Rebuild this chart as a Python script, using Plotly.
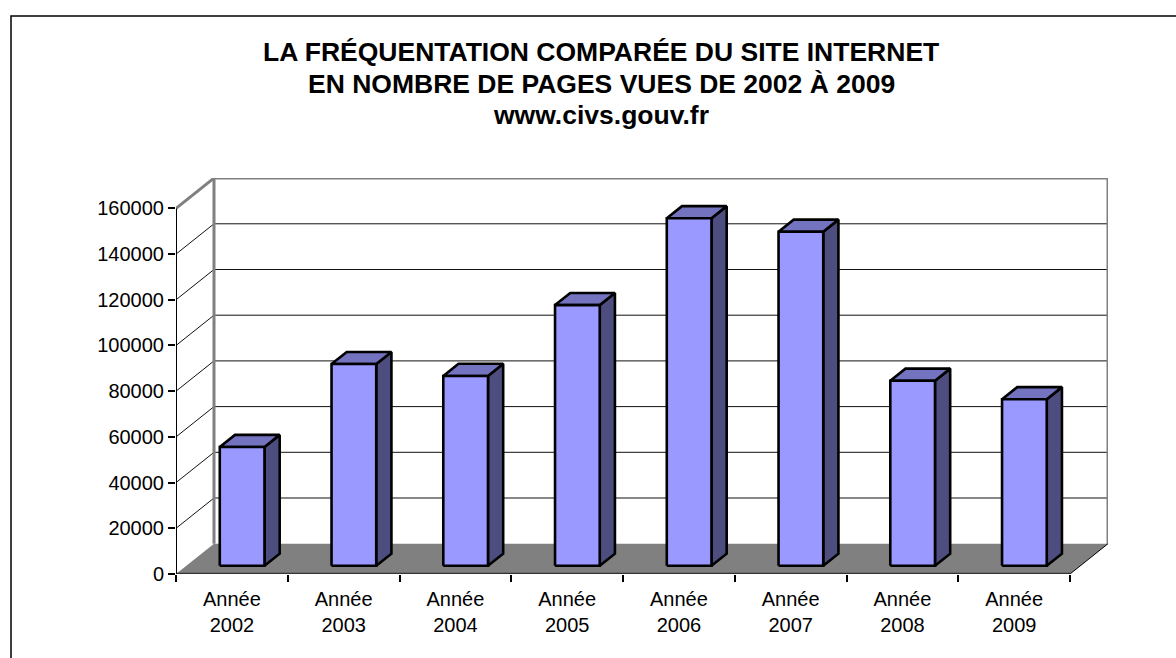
import plotly.graph_objects as go

# Pages viewed per year on www.civs.gouv.fr
categories = ["2002", "2003", "2004", "2005", "2006", "2007", "2008", "2009"]
pages_vues = [52000, 88300, 83100, 114100, 152100, 146200, 81000, 72900]
y_ticks = [0, 20000, 40000, 60000, 80000, 100000, 120000, 140000, 160000]
title_lines = [
    "LA FRÉQUENTATION COMPARÉE DU SITE INTERNET",
    "EN NOMBRE DE PAGES VUES DE 2002 À 2009",
    "www.civs.gouv.fr",
]

FONT = "Arial, Liberation Sans, sans-serif"

# Oblique 3-D geometry, in axis units
n = len(categories)
DX = 0.34          # depth shift along the category axis
DY = 13260         # depth shift along the value axis
Y_TOP = y_ticks[-1]
Y_MAX = 173300
BAR_FRONT, BAR_BACK = 0.27, 0.67   # bar depth span (fraction of wall depth)
BAR_HALF = 0.2                     # half bar width in category units

FRONT_COL = "#9999FF"
SIDE_COL = "#4D4D80"
TOP_COL = "#7373C0"

# plot area in pixels
L, R, T, B = 176, 68, 178, 84
W, H = 1176, 658
PW, PH = W - L - R, H - T - B

fig = go.Figure()


def poly(xs, ys, fill, line_color=None, line_width=0):
    fig.add_trace(go.Scatter(
        x=xs + [xs[0]], y=ys + [ys[0]], mode="lines", fill="toself",
        fillcolor=fill,
        line=dict(color=line_color or fill, width=line_width),
        hoverinfo="skip", showlegend=False))


def seg(xs, ys, color, width):
    fig.add_trace(go.Scatter(
        x=xs, y=ys, mode="lines", line=dict(color=color, width=width),
        hoverinfo="skip", showlegend=False))


# walls
poly([0, DX, DX, 0], [0, DY, DY + Y_TOP, Y_TOP], "white")
poly([DX, n + DX, n + DX, DX], [DY, DY, DY + Y_TOP, DY + Y_TOP], "white")

# gridlines on side and back walls
for v in y_ticks[1:-1]:
    seg([0, DX, n + DX], [v, v + DY, v + DY], "#111111", 1)

# wall edges
seg([DX, DX, n + DX, n + DX], [DY, DY + Y_TOP, DY + Y_TOP, DY], "#808080", 3)
seg([0, DX], [Y_TOP, Y_TOP + DY], "#808080", 3)

# floor
poly([0, n, n + DX, DX], [0, 0, DY, DY], "#808080")
seg([n, n + DX], [0, DY], "#000000", 1)
seg([0, n], [0, 0], "#333333", 2.5)

# bars
fx, fy = BAR_FRONT * DX, BAR_FRONT * DY
bx, by = BAR_BACK * DX, BAR_BACK * DY
for i, v in enumerate(pages_vues):
    x0 = i + 0.5 - BAR_HALF
    x1 = i + 0.5 + BAR_HALF
    poly([x1 + fx, x1 + bx, x1 + bx, x1 + fx], [fy, by, by + v, fy + v],
         SIDE_COL, "black", 2.6)
    poly([x0 + fx, x1 + fx, x1 + bx, x0 + bx], [fy + v, fy + v, by + v, by + v],
         TOP_COL, "black", 2.6)
    poly([x0 + fx, x1 + fx, x1 + fx, x0 + fx], [fy, fy, fy + v, fy + v],
         FRONT_COL, "black", 2.6)

# value axis line
seg([0, 0], [0, Y_TOP], "black", 2)


def py(px):
    return (H - B - px) / PH


def pxx(px):
    return (px - L) / PW


for k, (line, ypix) in enumerate(zip(title_lines, [52, 84, 115])):
    fig.add_annotation(
        text=f"<b>{line}</b>", x=pxx(601), y=py(ypix), xref="paper", yref="paper",
        xanchor="center", yanchor="middle", showarrow=False,
        font=dict(family=FONT, size=26.5, color="black"))

# outer frame
fig.add_shape(type="rect", xref="paper", yref="paper",
              x0=pxx(11), x1=pxx(W + 20), y0=py(H + 20), y1=py(16),
              line=dict(color="black", width=1.5), fillcolor="rgba(0,0,0,0)",
              layer="below")

fig.update_layout(
    width=W, height=H,
    margin=dict(l=L, r=R, t=T, b=B, pad=0),
    paper_bgcolor="white", plot_bgcolor="white",
    showlegend=False,
    font=dict(family=FONT, size=20, color="black"),
    xaxis=dict(
        range=[0, n + DX], showgrid=False, zeroline=False, showline=False,
        tickmode="array", tickvals=[i + 0.5 for i in range(n)],
        ticktext=[f"Année<br>{c}" for c in categories],
        ticks="", ticklabelstandoff=11,
        tickfont=dict(family=FONT, size=20, color="black"),
        minor=dict(tickmode="array", tickvals=list(range(n + 1)),
                   ticks="outside", ticklen=7, tickwidth=1.5,
                   tickcolor="black", showgrid=False),
        fixedrange=True,
    ),
    yaxis=dict(
        range=[0, Y_MAX], showgrid=False, zeroline=False, showline=False,
        tickmode="array", tickvals=y_ticks, ticktext=[str(v) for v in y_ticks],
        ticks="outside", ticklen=7, tickwidth=1.5, tickcolor="black",
        tickfont=dict(family=FONT, size=20, color="black"),
        fixedrange=True,
    ),
)

fig.write_html("out.html")
